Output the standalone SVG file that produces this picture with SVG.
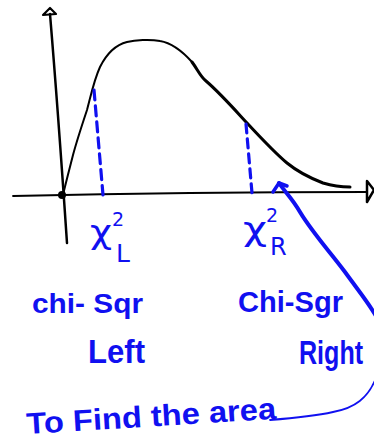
<svg xmlns="http://www.w3.org/2000/svg" width="374" height="444" viewBox="0 0 374 444">
<style>
.ink{fill:none;stroke:#000;stroke-linecap:round;stroke-linejoin:round}
.blue{fill:none;stroke:#1010f0;stroke-linecap:round;stroke-linejoin:round}
.t{fill:#1010f0;font-family:"Liberation Sans",Arial,sans-serif;font-weight:bold}
.g{fill:#1010f0;font-family:"DejaVu Sans",sans-serif}
</style>
<rect width="374" height="444" fill="#fff"/>
<g id="axes">
<path class="ink" stroke-width="2.5" d="M50,14 Q58,110 67,243"/>
<path class="ink" stroke-width="2.2" d="M43,15 L50,8 L56,14 Z"/>
<path class="ink" stroke-width="1.8" d="M13,196 Q190,192 367,192"/>
<path class="ink" stroke-width="2.5" d="M367,181 L374,190 L367,202 Z"/>
<circle cx="62" cy="195" r="4" fill="#000"/>
</g>
<g id="curve">
<path class="ink" stroke-width="2" d="M63,195 C67,178 70,167 73,155 C77,140 82,125 87,110 C91,95 94,80 100,67 C106,55 115,45 127,42 C135,40 150,39 160,41 C172,43 183,52 192,62"/>
<path class="ink" stroke-width="3" d="M192,62 C198,70 200,76 206,81 C220,93 235,110 247,123 C260,137 275,153 287,163 C298,172 310,178 323,183 C333,186 342,187 350,187"/>
</g>
<g id="dashes">
<path class="blue" stroke-width="3.2" stroke-dasharray="10,6" d="M94,90 L103,195"/>
<path class="blue" stroke-width="3.2" stroke-dasharray="9,6" d="M246,124 L252,193"/>
</g>
<g id="labels">
<text class="g" x="90" y="243" font-size="32" textLength="22" lengthAdjust="spacingAndGlyphs">χ</text>
<text class="g" x="112" y="226" font-size="19">2</text>
<text class="g" x="116" y="262" font-size="25">L</text>
<text class="g" x="243" y="240" font-size="32" textLength="24" lengthAdjust="spacingAndGlyphs">χ</text>
<text class="g" x="266" y="222" font-size="19">2</text>
<text class="g" x="270" y="255" font-size="24">R</text>
<text class="t" x="32" y="313" font-size="27" textLength="111" lengthAdjust="spacingAndGlyphs">chi- Sqr</text>
<text class="t" x="88" y="363" font-size="34" textLength="57" lengthAdjust="spacingAndGlyphs">Left</text>
<text class="t" x="238" y="312" font-size="29" textLength="105" lengthAdjust="spacingAndGlyphs">Chi-Sgr</text>
<text class="t" transform="translate(299,364) scale(0.93,1.2)" font-size="27">Right</text>
<text class="t" x="27" y="434" font-size="30" textLength="250" lengthAdjust="spacingAndGlyphs" transform="rotate(-3.5 27 434)">To Find  the area</text>
</g>
<g id="connectors">
<path class="blue" stroke-width="4" d="M279,183 C285,192 292,198 300,212 C312,232 330,252 345,272 C358,290 368,302 376,316"/>
<path class="blue" stroke-width="3.5" d="M273,192 L279,183 L287,186"/>
<path class="blue" stroke-width="1.8" d="M376,378 C368,398 355,408 333,412 C315,416 295,418 270,420"/>
</g>
</svg>
